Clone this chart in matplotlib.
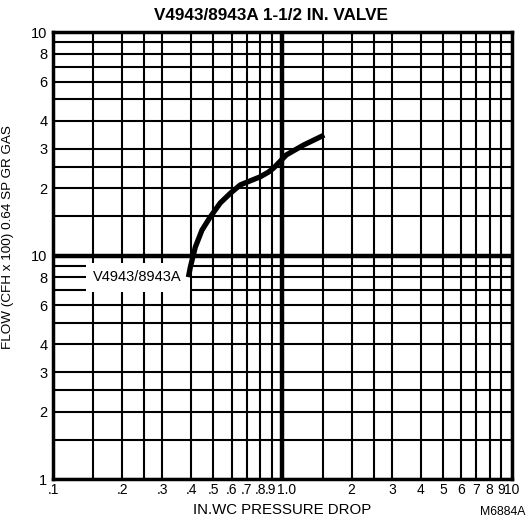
import matplotlib
matplotlib.use("Agg")
import matplotlib.pyplot as plt
import matplotlib.transforms as mtransforms
import numpy as np

# curve (pressure drop, flow in CFH x 100)
drop = [0.389, 0.397, 0.417, 0.446, 0.485, 0.536, 0.593, 0.655, 0.725,
        0.80, 0.868, 0.914, 1.04, 1.235, 1.52]
flow = [8.0, 8.9, 10.9, 13.0, 14.9, 17.2, 19.0, 20.7, 21.6,
        22.5, 23.6, 24.6, 28.2, 31.2, 34.6]

x_grid = [0.1, 0.15, 0.2, 0.25, 0.3, 0.4, 0.5, 0.6, 0.7, 0.8, 0.9, 1.0,
          1.5, 2, 2.5, 3, 4, 5, 6, 7, 8, 9, 10]
y_grid = [1, 1.5, 2, 2.5, 3, 4, 5, 6, 7, 8, 9, 10,
          15, 20, 25, 30, 40, 50, 60, 70, 80, 90, 100]

x_ticks = [0.1, 0.2, 0.3, 0.4, 0.5, 0.6, 0.7, 0.8, 0.9, 1.0, 2, 3, 4, 5, 6, 7, 8, 9, 10]
x_labels = [".1", ".2", ".3", ".4", ".5", ".6", ".7", ".8", ".9", "1.0",
            "2", "3", "4", "5", "6", "7", "8", "9", "10"]
y_ticks = [1, 2, 3, 4, 6, 8, 10, 20, 30, 40, 60, 80, 100]
y_labels = ["1", "2", "3", "4", "6", "8", "10", "2", "3", "4", "6", "8", "10"]

plt.rcParams['font.family'] = ['Liberation Sans', 'DejaVu Sans']

fig = plt.figure(figsize=(5.29, 5.23), dpi=100)
ax = fig.add_axes([0.1002, 0.0841, 0.8676, 0.8547])
ax.set_xscale('log')
ax.set_yscale('log')
ax.set_xlim(0.1, 10)
ax.set_ylim(1, 100)

for g in x_grid:
    ax.axvline(g, color='black', lw=3.2 if g == 1.0 else 1.5, zorder=1)
for g in y_grid:
    ax.axhline(g, color='black', lw=3.2 if g == 10 else 1.5, zorder=1)

ax.plot(drop, flow, color='black', lw=3.8, solid_capstyle='butt',
        solid_joinstyle='round', zorder=4)

ax.text(0.365, 8.0, "V4943/8943A", ha='right', va='center', fontsize=10.5,
        bbox=dict(facecolor='white', edgecolor='none', pad=5.5), zorder=3)

ax.minorticks_off()
ax.set_xticks(x_ticks)
ax.set_xticklabels(x_labels, fontsize=10)
ax.set_yticks(y_ticks)
ax.set_yticklabels(y_labels, fontsize=10.5)
ax.tick_params(axis='x', length=0, pad=3)
ax.tick_params(axis='y', length=0, pad=4)
for s in ax.spines.values():
    s.set_linewidth(2.5)
    s.set_zorder(5)

# nudge the crowded labels apart a little
for lab in ax.get_xticklabels():
    if lab.get_text() == "1.0":
        lab.set_transform(lab.get_transform() +
                          mtransforms.ScaledTranslation(3/72, 0, fig.dpi_scale_trans))
    if lab.get_text() == ".9":
        lab.set_transform(lab.get_transform() +
                          mtransforms.ScaledTranslation(-1/72, 0, fig.dpi_scale_trans))

fig.text(0.512, 0.971, "V4943/8943A 1-1/2 IN. VALVE", ha='center', va='center',
         fontsize=12.3, fontweight='bold')
ax.set_xlabel("IN.WC PRESSURE DROP", fontsize=10.8, labelpad=4)
ax.set_ylabel("FLOW (CFH x 100) 0.64 SP GR GAS", fontsize=9.7, labelpad=8)
ax.yaxis.set_label_coords(-0.085, 0.541)
fig.text(0.994, 0.016, "M6884A", ha='right', fontsize=8.8)

fig.savefig("out.png", dpi=100)
